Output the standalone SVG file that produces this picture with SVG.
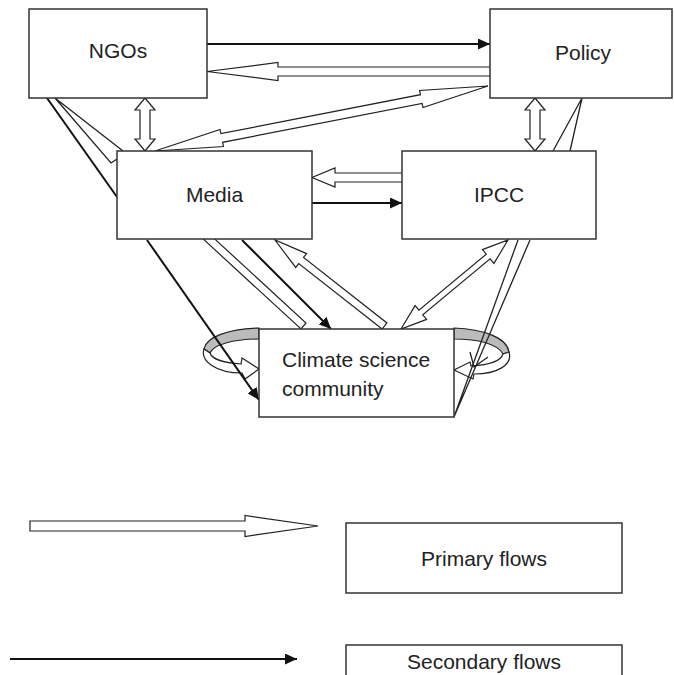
<svg xmlns="http://www.w3.org/2000/svg" width="674" height="675" viewBox="0 0 674 675">
<style>
.box{fill:#fff;stroke:#333;stroke-width:1.5}
.lbl{font-family:"Liberation Sans",Arial,sans-serif;font-size:21px;fill:#222}
.open{fill:#fff;stroke:#222;stroke-width:1.2;stroke-linejoin:miter}
.solid{fill:none;stroke:#111;stroke-width:2}
.thin{fill:none;stroke:#222;stroke-width:1.3}
.band{fill:#bbb;stroke:#222;stroke-width:1.2}
</style>
<defs>
<marker id="ah" markerUnits="userSpaceOnUse" markerWidth="12" markerHeight="11" refX="12" refY="5.5" orient="auto">
<path d="M0,0 L12,5.5 L0,11 Z" fill="#111"/>
</marker>
</defs>
<rect width="674" height="675" fill="#fff"/>
<g id="connectors">
  <path class="band" d="M259,328 C228,329 206,337 204,349 L210,353 C213,345 233,339 259,339 Z"/>
  <path class="open" d="M204,349 C200,361 216,373 242,373 L245,379 L259,369 L242,358 L241,364 C224,363 212,359 210,353 Z"/>
  <path class="band" d="M454,328 C484,329 507,338 509,352 L503,354 C498,344 478,339 454,339 Z"/>
  <path class="open" d="M509,352 C513,365 497,374 474,374 L473,379 L454,370 L470,362 L471,366 C488,365 501,361 503,354 Z"/>
  <line class="solid" x1="207" y1="44" x2="490" y2="44" marker-end="url(#ah)"/>
  <path class="open" d="M490,67 H278 V62.5 L207,71.5 L278,80.5 V76 H490"/>
  <path class="open" d="M145,98 L155,110 L150,110 L150,139 L155,139 L145,151 L135,139 L140,139 L140,110 L135,110 Z"/>
  <path class="open" d="M535,98 L545,110 L540,110 L540,139 L545,139 L535,151 L525,139 L530,139 L530,110 L525,110 Z"/>
  <path class="open" transform="translate(155,151) rotate(-11.045)" d="M0,0 L68,-8.7 L68,-4.4 L271.3,-4.4 L271.3,-8.7 L339.3,0 L271.3,8.7 L271.3,4.4 L68,4.4 L68,8.7 Z"/>
  <path class="open" d="M402,173 H335 V168 L312,177.5 L335,187 V182 H402"/>
  <line class="solid" x1="312" y1="203" x2="402" y2="203" marker-end="url(#ah)"/>
  <line class="solid" x1="47" y1="98" x2="117" y2="197"/>
  <polyline class="thin" points="123,151 55,98 111,163 117,159"/>
  <polyline class="thin" points="553,151 582,98 570,151"/>
  <line class="solid" x1="147" y1="240" x2="259" y2="400" marker-end="url(#ah)"/>
  <path class="open" d="M195.6,221.4 L306,323 L301,329 L190.6,227.4"/>
  <line class="solid" x1="242" y1="240" x2="331" y2="329" marker-end="url(#ah)"/>
  <path class="open" transform="translate(384.5,326) rotate(218.14)" d="M0,-3.9 L106,-3.9 L106,-8.8 L139.2,0 L106,8.8 L106,3.9 L0,3.9 Z"/>
  <path class="open" transform="translate(401,329) rotate(-39.75)" d="M0,0 L25.8,-9 L25.8,-3 L113.4,-3 L113.4,-9 L139.2,0 L113.4,9 L113.4,3 L25.8,3 L25.8,9 Z"/>
  <polyline class="thin" points="518,240 454,417 530,240"/>
  <polyline class="thin" points="470,352 474,367 488,357"/>
</g>
<g id="ngos">
  <rect class="box" x="29" y="9" width="178" height="89"/>
  <text class="lbl" x="118" y="58" text-anchor="middle">NGOs</text>
</g>
<g id="policy">
  <rect class="box" x="490" y="9" width="182" height="89"/>
  <text class="lbl" x="583" y="60" text-anchor="middle">Policy</text>
</g>
<g id="media">
  <rect class="box" x="117" y="151" width="195" height="88"/>
  <text class="lbl" x="214.5" y="202" text-anchor="middle">Media</text>
</g>
<g id="ipcc">
  <rect class="box" x="402" y="151" width="194" height="88"/>
  <text class="lbl" x="499" y="202" text-anchor="middle">IPCC</text>
</g>
<g id="climate">
  <rect class="box" x="259" y="329" width="195" height="88"/>
  <text class="lbl" x="282" y="367">Climate science</text>
  <text class="lbl" x="282" y="396">community</text>
</g>
<g id="legend">
  <path class="open" d="M30,521 H245 V515.5 L318,526 L245,536.5 V531 H30 Z"/>
  <line class="solid" x1="10" y1="659" x2="297" y2="659" marker-end="url(#ah)"/>
  <rect class="box" x="346" y="523" width="276" height="70"/>
  <text class="lbl" x="484" y="566" text-anchor="middle">Primary flows</text>
  <rect class="box" x="346" y="645" width="276" height="40"/>
  <text class="lbl" x="484" y="669" text-anchor="middle">Secondary flows</text>
</g>
</svg>
